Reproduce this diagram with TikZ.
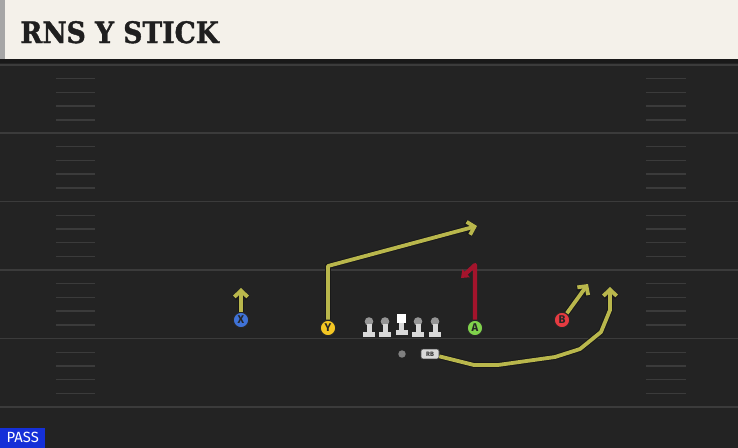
\documentclass[tikz,border=0pt]{standalone}
\usepackage{fontspec}
\setmainfont{DejaVu Serif}
\setsansfont{Fira Sans}
\newfontfamily\titlefont[BoldFeatures={FakeBold=1.3}]{DejaVu Serif Condensed}
\usetikzlibrary{arrows.meta, calc}

\definecolor{fieldbg}{HTML}{232323}
\definecolor{fieldline}{HTML}{3B3B3B}
\definecolor{headbg}{HTML}{F4F1EA}
\definecolor{routeyel}{HTML}{B9B74C}
\definecolor{routered}{HTML}{A3142C}
\definecolor{xblue}{HTML}{3F72D6}
\definecolor{yyel}{HTML}{F3C623}
\definecolor{agreen}{HTML}{80D24C}
\definecolor{bred}{HTML}{E63B41}
\definecolor{passblue}{HTML}{1530D8}
\definecolor{olhead}{HTML}{969696}
\definecolor{olbody}{HTML}{D9D9D9}

\begin{document}
\begin{tikzpicture}[x=0.025cm,y=-0.025cm,
  route/.style={draw=routeyel,line width=2.7pt,line join=round,
    preaction={draw=black!90,line width=4.1pt},
    -{Straight Barb[length=4.5pt,width=9.5pt]}},
  redroute/.style={draw=routered,line width=3pt,line join=round,
    -{Triangle[length=5pt,width=7.5pt]}},
  yardline/.style={draw=fieldline,line width=1.4pt},
  hashmark/.style={draw=fieldline,line width=1pt},
  player/.style={circle,draw=black!85,line width=0.8pt,minimum size=11pt,inner sep=0pt,
    font=\sffamily\bfseries\fontsize{8}{8}\selectfont,text=black!85},
  rbbox/.style={fill=olbody,draw=black!70,line width=0.4pt,rounded corners=1.5pt,
    minimum width=12.8pt,minimum height=7pt,inner sep=0pt,
    font=\sffamily\bfseries\fontsize{4.5}{4.5}\selectfont,text=black!80}]
  %\draw (0, 0) grid (738, 448);
  \useasboundingbox (0,0) rectangle (738,448);
  \fill[fieldbg] (0,0) rectangle (738,448);

  % header
  \fill[black!90] (0,58) rectangle (738,63);
  \fill[headbg] (5,0) rectangle (738,59);
  \fill[black!35] (0,0) rectangle (5,59);
  \node[anchor=base west,inner sep=0pt,text=black!88,
    font=\titlefont\bfseries\fontsize{21}{21}\selectfont] (title) at (20,43) {RNS Y STICK};

  % yard lines and hash marks
  \foreach \yl in {65,133,201.5,270,338.5,407}
    \draw[yardline] (0,\yl) -- (738,\yl);
  \foreach \yl in {65,133,201.5,270,338.5}
    \foreach \k in {1,...,4} {
      \draw[hashmark] (56,{\yl+\k*13.7}) -- (95,{\yl+\k*13.7});
      \draw[hashmark] (646,{\yl+\k*13.7}) -- (686,{\yl+\k*13.7});
    }

  \node[fill=passblue,text=white,anchor=south west,inner sep=0pt,
    minimum width=32pt,minimum height=14pt,
    font=\sffamily\fontsize{10.5}{10.5}\selectfont] (play) at (0,448) {PASS};

  % line
  \foreach \lx in {369,385,418,435} {
    \fill[olhead] (\lx,321.5) circle (4.3);
    \fill[olbody] (\lx-2.5,324) rectangle (\lx+2.5,332);
    \fill[olbody] (\lx-6,332) rectangle (\lx+6,336.5);
  }
  \fill[white] (397,314) rectangle (406,322.5);
  \fill[olbody] (399,322.5) rectangle (404,330);
  \fill[olbody] (395.5,330) rectangle (408,334.5);

  \node[circle,fill=black!50,minimum size=5.3pt,inner sep=0pt] (QB) at (402,354) {};
  \node[rbbox] (RB) at (430,354) {RB};

  % receivers
  \node[player,fill=xblue] (X) at (241,320) {X};
  \node[player,fill=yyel] (Y) at (328,328) {Y};
  \node[player,fill=agreen] (A) at (475,328) {A};
  \node[player,fill=bred] (B) at (562,320) {B};

  % routes
  \coordinate (Xend) at (241,288);
  \coordinate (Ycut) at (328,266);
  \coordinate (Yend) at (477,226);
  \coordinate (Atop) at (475,265);
  \coordinate (Ahook) at (461,278);
  \coordinate (Bend) at (588,284);
  \coordinate (rb1) at (474,365);
  \coordinate (rb2) at (498,365);
  \coordinate (rb3) at (555,357);
  \coordinate (rb4) at (580,349);
  \coordinate (rb5) at (601,332);
  \coordinate (rb6) at (610,310);
  \coordinate (rbend) at (610,287);

  \draw[route] (X) -- (Xend);
  \draw[route] (Y) -- (Ycut) -- (Yend);
  \draw[redroute] (A) -- (Atop) -- (Ahook);
  \draw[route] (B) -- (Bend);
  \draw[route] (RB) -- (rb1) -- (rb2) -- (rb3) -- (rb4) -- (rb5) -- (rb6) -- (rbend);
\end{tikzpicture}
\end{document}
